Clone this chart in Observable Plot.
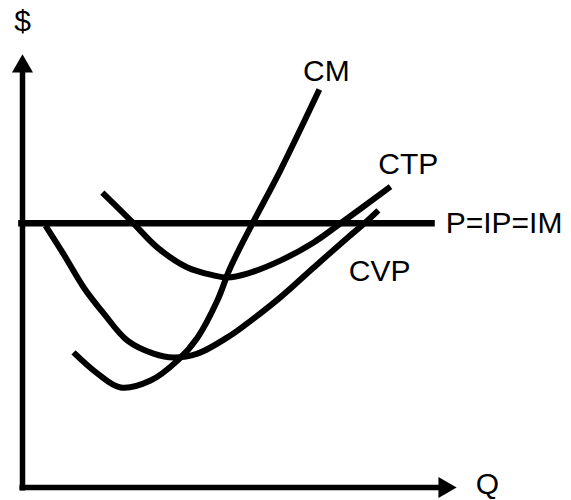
<!DOCTYPE html>
<html>
<head>
<meta charset="utf-8">
<script src="https://cdn.jsdelivr.net/npm/d3@7"></script>
<script src="https://cdn.jsdelivr.net/npm/@observablehq/plot@0.6"></script>
<style>
  html, body { margin: 0; padding: 0; background: #fff; }
  #chart svg { display: block; }
</style>
</head>
<body>
<div id="chart"></div>
<script>
// Curves (Q on x, $ on y, both on 0–100 scales)
const cmQ  = [11.75, 17.3, 22.6, 29.5, 35.7, 40.3, 44.9, 47.9, 53.0, 59.4, 68.4];
const cmP  = [31.2, 26.3, 23.1, 24.7, 29.3, 34.6, 43.2, 50.8, 61.0, 73.2, 91.9];

const ctpQ = [18.4, 24.9, 31.1, 38.0, 44.0, 47.2, 51.8, 59.4, 67.1, 72.6, 84.8];
const ctpP = [68.1, 61.7, 55.4, 50.8, 49.0, 48.5, 49.4, 52.4, 56.6, 60.5, 69.5];

const cvpQ = [5.3, 9.4, 14.1, 18.7, 24.2, 30.2, 34.8, 40.3, 47.9, 51.8, 59.4, 67.1, 74.9, 79.0, 82.0];
const cvpP = [60.5, 54.0, 46.2, 40.2, 33.9, 30.9, 30.0, 30.9, 35.1, 37.9, 43.9, 50.8, 57.7, 61.2, 64.0];

// Price line P = IP = IM
const priceQ = [-1, 95];
const priceLevel = 61.0;

// Axes extents
const axisMin = -0.7;
const axisMax = 100;

// Labels (centered)
const labelText = ["$", "CM", "CTP", "CVP", "Q"];
const labelQ    = [0, 70.0, 88.9, 82.3, 107.1];
const labelP    = [107.6, 96.1, 74.6, 49.9, 0.8];

// Label placed to the right of the price line (start-anchored)
const priceLabel = "P=IP=IM";
const priceLabelQ = 97.5;

const toPts = (qs, ps) => qs.map((q, i) => ({q, p: ps[i]}));
const cm = toPts(cmQ, cmP);
const ctp = toPts(ctpQ, ctpP);
const cvp = toPts(cvpQ, cvpP);
const price = priceQ.map(q => ({q, p: priceLevel}));
const labels = labelText.map((t, i) => ({t, q: labelQ[i], p: labelP[i]}));

const font = "'Liberation Sans', Arial, sans-serif";
const curveStyle = {x: "q", y: "p", stroke: "black", strokeWidth: 6, strokeLinecap: "butt", curve: "catmull-rom"};

const chart = Plot.plot({
  width: 571,
  height: 500,
  marginLeft: 22,
  marginRight: 115,
  marginTop: 54,
  marginBottom: 13,
  x: {domain: [0, 100], axis: null},
  y: {domain: [0, 100], axis: null},
  style: {background: "white", fontFamily: font},
  marks: [
    // axes
    Plot.line([{q: 0, p: axisMin}, {q: 0, p: 96}], {x: "q", y: "p", stroke: "black", strokeWidth: 5.5, strokeLinecap: "butt"}),
    Plot.line([{q: axisMin, p: 0}, {q: 96, p: 0}], {x: "q", y: "p", stroke: "black", strokeWidth: 5.5, strokeLinecap: "butt"}),
    Plot.dot([{q: 0, p: axisMax}], {x: "q", y: "p", symbol: "triangle", r: 7.8, fill: "black", stroke: "none", dy: 12}),
    Plot.dot([{q: axisMax, p: 0}], {x: "q", y: "p", symbol: "triangle", r: 7.8, fill: "black", stroke: "none", dx: -12, rotate: 90}),
    // price line
    Plot.line(price, {x: "q", y: "p", stroke: "black", strokeWidth: 6.5, strokeLinecap: "butt"}),
    // cost curves
    Plot.line(cvp, curveStyle),
    Plot.line(ctp, curveStyle),
    Plot.line(cm, curveStyle),
    // labels
    Plot.text(labels, {x: "q", y: "p", text: "t", textAnchor: "middle", fontSize: 30, fill: "black", fontFamily: font}),
    Plot.text([priceLabel], {x: () => priceLabelQ, y: () => priceLevel, text: d => d, textAnchor: "start", fontSize: 30, fill: "black", fontFamily: font})
  ]
});
document.getElementById("chart").appendChild(chart);
</script>
</body>
</html>
